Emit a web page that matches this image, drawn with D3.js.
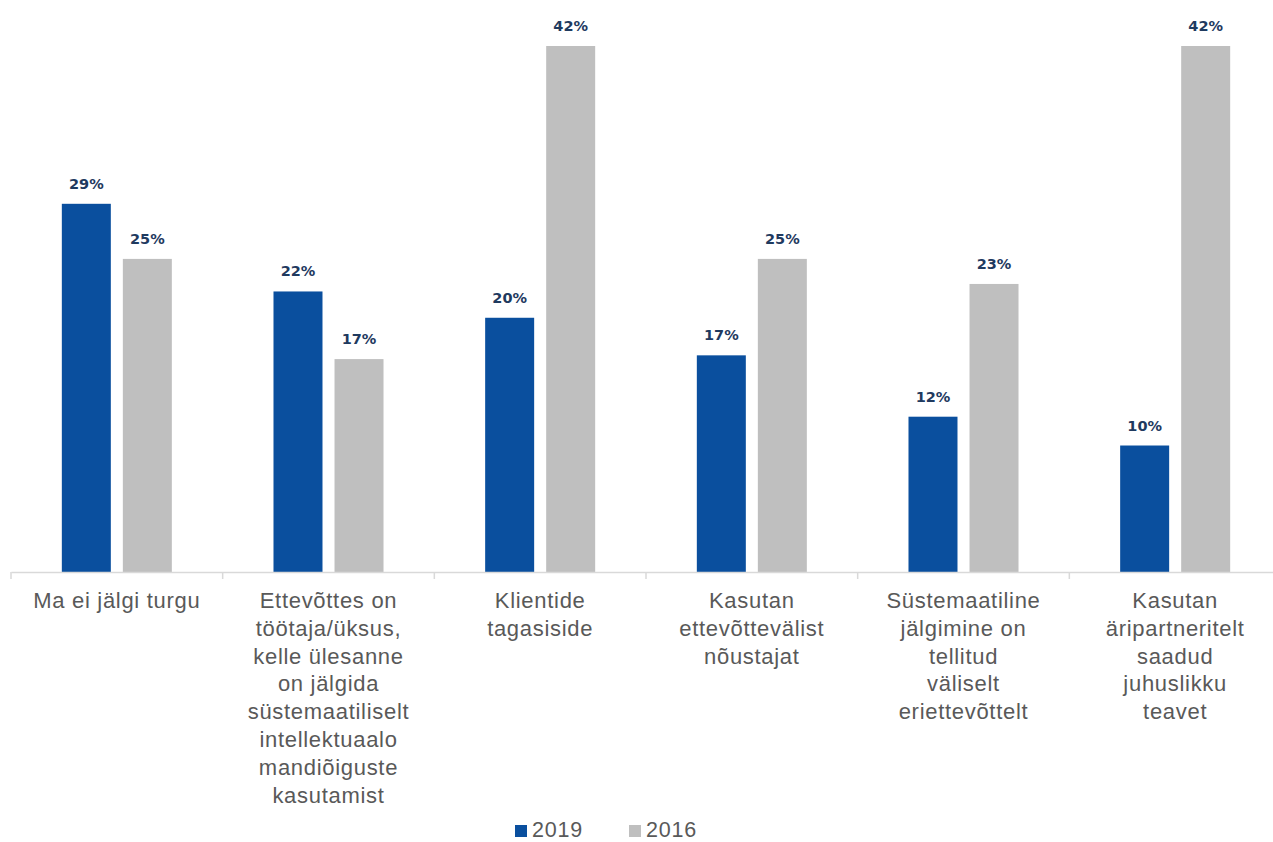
<!DOCTYPE html>
<html><head><meta charset="utf-8">
<script src="https://cdn.jsdelivr.net/npm/d3@7"></script>
<style>body{margin:0;background:#fff}svg{display:block}</style>
</head><body>
<svg id="c" width="1273" height="842"></svg>
<script>
const categories = [
  ["Ma ei jälgi turgu"],
  ["Ettevõttes on","töötaja/üksus,","kelle ülesanne","on jälgida","süstemaatiliselt","intellektuaalo","mandiõiguste","kasutamist"],
  ["Klientide","tagasiside"],
  ["Kasutan","ettevõttevälist","nõustajat"],
  ["Süstemaatiline","jälgimine on","tellitud","väliselt","eriettevõttelt"],
  ["Kasutan","äripartneritelt","saadud","juhuslikku","teavet"]
];
const values2019 = [29.4, 22.4, 20.3, 17.3, 12.4, 10.1];
const values2016 = [25.0, 17.0, 42.0, 25.0, 23.0, 42.0];
const seriesNames = ["2019", "2016"];
const colors = ["#0a4f9e", "#bfbfbf"];

const svg = d3.select("#c");
const x = d3.scaleBand().domain(d3.range(categories.length)).range([11, 1281]);
const y = d3.scaleLinear().domain([0, 42]).range([572, 46]);
const sub = d3.scaleBand().domain([0,1]).range([0, x.bandwidth()]).paddingInner(0.197).paddingOuter(0.833);

const data = [];
categories.forEach((c,i)=>{
  data.push({i, s:0, v:values2019[i]});
  data.push({i, s:1, v:values2016[i]});
});

svg.selectAll("rect.bar").data(data).join("rect").attr("class","bar")
  .attr("x", d=>x(d.i)+sub(d.s)).attr("width", sub.bandwidth())
  .attr("y", d=>y(d.v)).attr("height", d=>y(0)-y(d.v))
  .attr("fill", d=>colors[d.s]);

svg.selectAll("text.val").data(data).join("text").attr("class","val")
  .attr("x", d=>x(d.i)+sub(d.s)+sub.bandwidth()/2).attr("y", d=>y(d.v)-15)
  .attr("text-anchor","middle").attr("font-family","DejaVu Sans").attr("font-weight","bold")
  .attr("font-size","14.5px").attr("fill","#1f3a5f")
  .text(d=>Math.round(d.v)+"%");

// axis
const ax = svg.append("g").attr("transform","translate(0,572)")
  .call(d3.axisBottom(x).tickSize(0).tickFormat(""));
ax.select(".domain").attr("stroke","#d9d9d9").attr("stroke-width",1.5);
const tickPos = d3.range(categories.length+1).map(i=>11 + i*x.step());
svg.selectAll("line.tk").data(tickPos).join("line").attr("class","tk")
  .attr("x1",d=>d).attr("x2",d=>d).attr("y1",572).attr("y2",579)
  .attr("stroke","#d9d9d9").attr("stroke-width",1.5);

// category labels
categories.forEach((lines,i)=>{
  const t = svg.append("text").attr("text-anchor","middle")
    .attr("font-family","Liberation Sans, Arial").attr("font-size","22px")
    .attr("letter-spacing","0.7px").attr("fill","#595959");
  lines.forEach((l,k)=>{
    t.append("tspan").attr("x", x(i)+x.bandwidth()/2).attr("y", 608 + k*27.8).text(l);
  });
});

// legend
const leg = [{x:515, s:0},{x:629, s:1}];
leg.forEach(L=>{
  svg.append("rect").attr("x",L.x).attr("y",825).attr("width",12).attr("height",12).attr("fill",colors[L.s]);
  svg.append("text").attr("x",L.x+17).attr("y",837).attr("font-family","Liberation Sans, Arial")
    .attr("font-size","21.5px").attr("letter-spacing","0.8px").attr("fill","#595959").text(seriesNames[L.s]);
});
</script>
</body></html>
